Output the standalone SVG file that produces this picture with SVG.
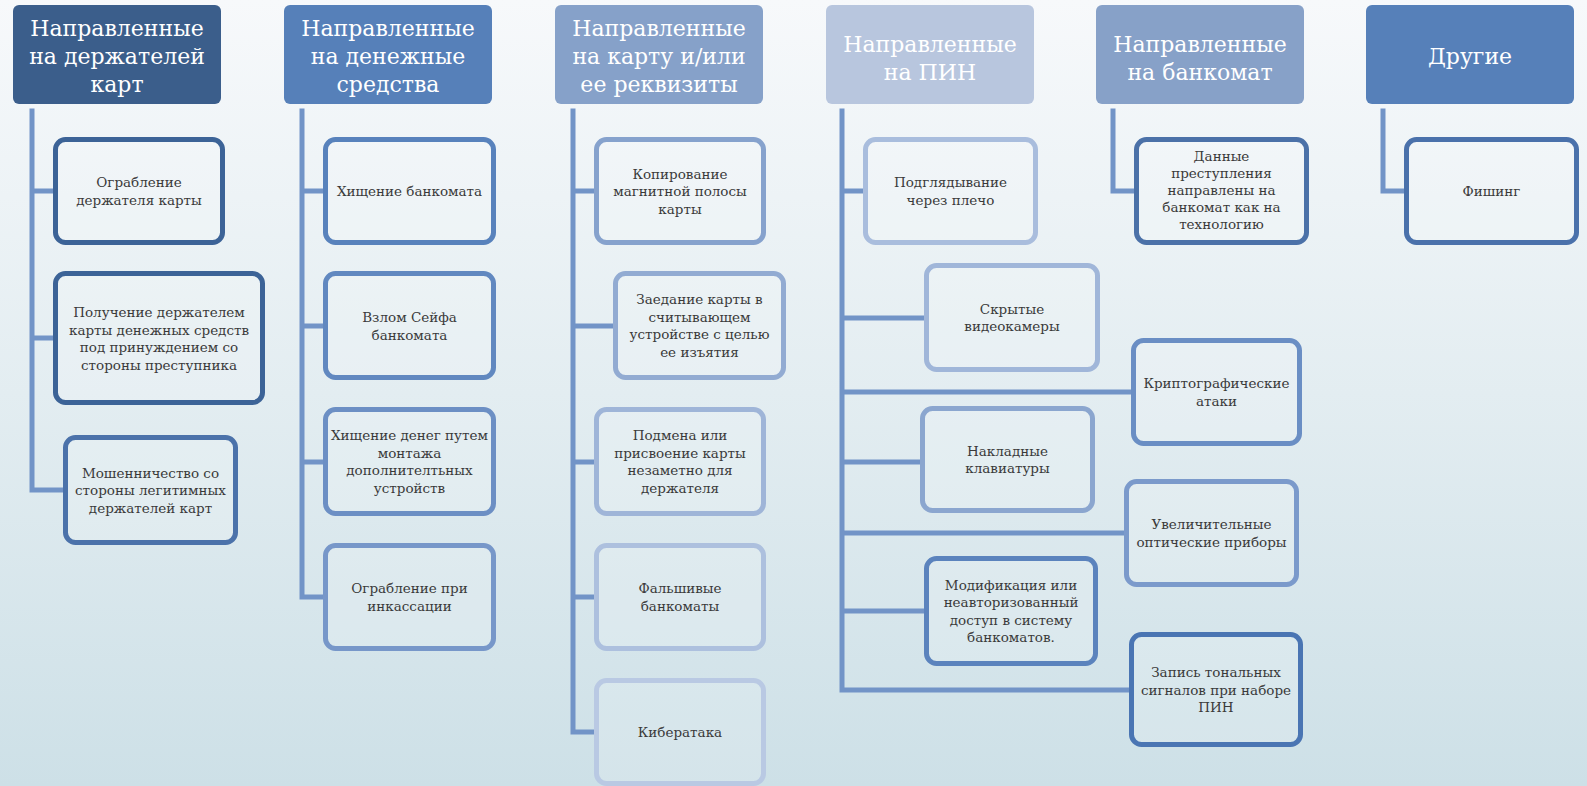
<svg xmlns="http://www.w3.org/2000/svg" width="1587" height="786" viewBox="0 0 1587 786">
<defs>
<linearGradient id="bg" x1="0" y1="0" x2="0" y2="1">
<stop offset="0" stop-color="#f7f9fb"/>
<stop offset="0.5" stop-color="#e3edf1"/>
<stop offset="1" stop-color="#cde0e7"/>
</linearGradient>
<style>
.hd{stroke:none}
.ht{font-family:"DejaVu Serif","Liberation Serif",serif;font-size:22px;fill:#ffffff;text-anchor:middle}
.bx{fill:#ffffff;fill-opacity:0.15;stroke-width:5}
.bt{font-family:"DejaVu Serif","Liberation Serif",serif;font-size:13.5px;fill:#3a3a3a;text-anchor:middle}
.cn{fill:none;stroke:#7294c7;stroke-width:5;stroke-linecap:square}
</style>
</defs>
<rect x="0" y="0" width="1587" height="786" fill="url(#bg)"/>

<g id="connectors">
<path class="cn" d="M32,111 V490 M32,191 H53 M32,338 H53 M32,490 H63"/>
<path class="cn" d="M302,111 V597 M302,191 H323 M302,326 H323 M302,462 H323 M302,597 H323"/>
<path class="cn" d="M573,111 V732 M573,191 H594 M573,326 H613 M573,462 H594 M573,597 H594 M573,732 H594"/>
<path class="cn" d="M842,111 V690 M842,191 H863 M842,318 H924 M842,392 H1131 M842,462 H920 M842,533 H1124 M842,611 H924 M842,690 H1129"/>
<path class="cn" d="M1113,111 V191 H1134"/>
<path class="cn" d="M1383,111 V191 H1404"/>
</g>

<g id="h1"><rect class="hd" x="13" y="5" width="208" height="99" rx="6" fill="#3b5e8b"/>
<text class="ht" x="117" y="36">Направленные<tspan x="117" dy="27.8">на держателей</tspan><tspan x="117" dy="27.8">карт</tspan></text></g>
<g id="h2"><rect class="hd" x="284" y="5" width="208" height="99" rx="6" fill="#5680b9"/>
<text class="ht" x="388" y="36">Направленные<tspan x="388" dy="27.8">на денежные</tspan><tspan x="388" dy="27.8">средства</tspan></text></g>
<g id="h3"><rect class="hd" x="555" y="5" width="208" height="99" rx="6" fill="#86a1c9"/>
<text class="ht" x="659" y="36">Направленные<tspan x="659" dy="27.8">на карту и/или</tspan><tspan x="659" dy="27.8">ее реквизиты</tspan></text></g>
<g id="h4"><rect class="hd" x="826" y="5" width="208" height="99" rx="6" fill="#b8c6de"/>
<text class="ht" x="930" y="52">Направленные<tspan x="930" dy="27.8">на ПИН</tspan></text></g>
<g id="h5"><rect class="hd" x="1096" y="5" width="208" height="99" rx="6" fill="#87a1c8"/>
<text class="ht" x="1200" y="52">Направленные<tspan x="1200" dy="27.8">на банкомат</tspan></text></g>
<g id="h6"><rect class="hd" x="1366" y="5" width="208" height="99" rx="6" fill="#5680b9"/>
<text class="ht" x="1470" y="64">Другие</text></g>

<g id="c1b1"><rect class="bx" x="55.5" y="139.5" width="167" height="103" rx="10" stroke="#3c6397"/>
<text class="bt" x="139" y="187">Ограбление<tspan x="139" dy="17.5">держателя карты</tspan></text></g>
<g id="c1b2"><rect class="bx" x="55.5" y="273.5" width="207" height="129" rx="10" stroke="#3c6397"/>
<text class="bt" x="159" y="317">Получение держателем<tspan x="159" dy="17.5">карты денежных средств</tspan><tspan x="159" dy="17.5">под принуждением со</tspan><tspan x="159" dy="17.5">стороны преступника</tspan></text></g>
<g id="c1b3"><rect class="bx" x="65.5" y="437.5" width="170" height="105" rx="10" stroke="#4b72aa"/>
<text class="bt" x="150.5" y="477.5">Мошенничество со<tspan x="150.5" dy="17.5">стороны легитимных</tspan><tspan x="150.5" dy="17.5">держателей карт</tspan></text></g>

<g id="c2b1"><rect class="bx" x="325.5" y="139.5" width="168" height="103" rx="10" stroke="#5882bc"/>
<text class="bt" x="409.5" y="196">Хищение банкомата</text></g>
<g id="c2b2"><rect class="bx" x="325.5" y="273.5" width="168" height="104" rx="10" stroke="#6188c0"/>
<text class="bt" x="409.5" y="322">Взлом Сейфа<tspan x="409.5" dy="17.5">банкомата</tspan></text></g>
<g id="c2b3"><rect class="bx" x="325.5" y="409.5" width="168" height="104" rx="10" stroke="#6c8fc4"/>
<text class="bt" x="409.5" y="440">Хищение денег путем<tspan x="409.5" dy="17.5">монтажа</tspan><tspan x="409.5" dy="17.5">дополнителтьных</tspan><tspan x="409.5" dy="17.5">устройств</tspan></text></g>
<g id="c2b4"><rect class="bx" x="325.5" y="545.5" width="168" height="103" rx="10" stroke="#7797c9"/>
<text class="bt" x="409.5" y="593">Ограбление при<tspan x="409.5" dy="17.5">инкассации</tspan></text></g>

<g id="c3b1"><rect class="bx" x="596.5" y="139.5" width="167" height="103" rx="10" stroke="#86a2cd"/>
<text class="bt" x="680" y="178.5">Копирование<tspan x="680" dy="17.5">магнитной полосы</tspan><tspan x="680" dy="17.5">карты</tspan></text></g>
<g id="c3b2"><rect class="bx" x="615.5" y="273.5" width="168" height="104" rx="10" stroke="#92abd2"/>
<text class="bt" x="699.5" y="304.25">Заедание карты в<tspan x="699.5" dy="17.5">считывающем</tspan><tspan x="699.5" dy="17.5">устройстве с целью</tspan><tspan x="699.5" dy="17.5">ее изъятия</tspan></text></g>
<g id="c3b3"><rect class="bx" x="596.5" y="409.5" width="167" height="104" rx="10" stroke="#9fb5d8"/>
<text class="bt" x="680" y="440.25">Подмена или<tspan x="680" dy="17.5">присвоение карты</tspan><tspan x="680" dy="17.5">незаметно для</tspan><tspan x="680" dy="17.5">держателя</tspan></text></g>
<g id="c3b4"><rect class="bx" x="596.5" y="545.5" width="167" height="103" rx="10" stroke="#adc0de"/>
<text class="bt" x="680" y="593.25">Фальшивые<tspan x="680" dy="17.5">банкоматы</tspan></text></g>
<g id="c3b5"><rect class="bx" x="596.5" y="680.5" width="167" height="103" rx="10" stroke="#b9c9e3"/>
<text class="bt" x="680" y="737">Кибератака</text></g>

<g id="c4b1"><rect class="bx" x="865.5" y="139.5" width="170" height="103" rx="10" stroke="#a9bddd"/>
<text class="bt" x="950.5" y="187.25">Подглядывание<tspan x="950.5" dy="17.5">через плечо</tspan></text></g>
<g id="c4b2"><rect class="bx" x="926.5" y="265.5" width="171" height="104" rx="10" stroke="#a0b6d9"/>
<text class="bt" x="1012" y="313.75">Скрытые<tspan x="1012" dy="17.5">видеокамеры</tspan></text></g>
<g id="c4b3"><rect class="bx" x="1133.5" y="340.5" width="166" height="103" rx="10" stroke="#6a8ec4"/>
<text class="bt" x="1216.5" y="388.25">Криптографические<tspan x="1216.5" dy="17.5">атаки</tspan></text></g>
<g id="c4b4"><rect class="bx" x="922.5" y="408.5" width="170" height="102" rx="10" stroke="#8ba6cf"/>
<text class="bt" x="1007.5" y="455.75">Накладные<tspan x="1007.5" dy="17.5">клавиатуры</tspan></text></g>
<g id="c4b5"><rect class="bx" x="1126.5" y="481.5" width="170" height="103" rx="10" stroke="#7b9acb"/>
<text class="bt" x="1211.5" y="529.25">Увеличительные<tspan x="1211.5" dy="17.5">оптические приборы</tspan></text></g>
<g id="c4b6"><rect class="bx" x="926.5" y="558.5" width="169" height="105" rx="10" stroke="#5b83bd"/>
<text class="bt" x="1011" y="589.75">Модификация или<tspan x="1011" dy="17.5">неавторизованный</tspan><tspan x="1011" dy="17.5">доступ в систему</tspan><tspan x="1011" dy="17.5">банкоматов.</tspan></text></g>
<g id="c4b7"><rect class="bx" x="1131.5" y="634.5" width="169" height="110" rx="10" stroke="#4a75b3"/>
<text class="bt" x="1216" y="677">Запись тональных<tspan x="1216" dy="17.5">сигналов при наборе</tspan><tspan x="1216" dy="17.5">ПИН</tspan></text></g>

<g id="c5b1"><rect class="bx" x="1136.5" y="139.5" width="170" height="103" rx="10" stroke="#4b71a8"/>
<text class="bt" x="1221.5" y="161">Данные<tspan x="1221.5" dy="17">преступления</tspan><tspan x="1221.5" dy="17">направлены на</tspan><tspan x="1221.5" dy="17">банкомат как на</tspan><tspan x="1221.5" dy="17">технологию</tspan></text></g>

<g id="c6b1"><rect class="bx" x="1406.5" y="139.5" width="170" height="103" rx="10" stroke="#4a71ab"/>
<text class="bt" x="1491.5" y="196">Фишинг</text></g>
</svg>
